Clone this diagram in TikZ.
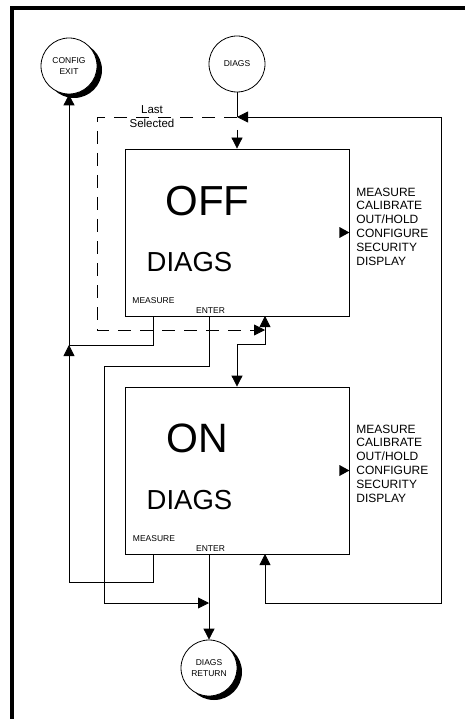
\documentclass[tikz,border=0pt]{standalone}
\usepackage{fontspec}
\setmainfont{Liberation Sans}
\usetikzlibrary{arrows.meta,positioning,shadows}

\begin{document}
\begin{tikzpicture}[
    x=1pt, y=-1pt, line width=0.8pt,
    screen/.style={rectangle, draw, minimum width=224pt, minimum height=167pt, inner sep=0pt},
    state/.style={circle, draw, fill=white, minimum size=56pt, inner sep=0pt,
                  align=center, font=\fontsize{8.5}{11}\selectfont},
    shadowed/.style={drop shadow={shadow xshift=5pt, shadow yshift=-4pt, opacity=1, fill=black}},
    keylbl/.style={inner sep=0pt, font=\fontsize{8.5}{9}\selectfont},
    menu/.style={anchor=west, align=left, inner sep=0pt, font=\fontsize{12}{13.8}\selectfont},
    arr/.style={-{Triangle[length=11pt,width=11pt]}},
    twoarr/.style={{Triangle[length=11pt,width=11pt]}-{Triangle[length=11pt,width=11pt]}},
    lastsel/.style={dash pattern=on 13pt off 9pt}
]
\useasboundingbox (0,0) rectangle (465,719);

% Frame
\draw[line width=4pt] (12,719) -- (12,8) -- (465,8);

% Circles
\node[state, shadowed] (cfgexit) at (69,66) {CONFIG\\EXIT};
\node[state] (diags) at (237,64) {DIAGS};
\node[state, shadowed] (diagsret) at (209,668) {DIAGS\\RETURN};

% OFF screen
\node[screen] (off) at (237,232.5) {};
\node[font=\fontsize{42}{44}\selectfont] (offtxt) at (207.5,201) {OFF};
\node[font=\fontsize{27.5}{30}\selectfont] (offdiag) at (189.5,262) {DIAGS};
\node[keylbl] (offmlbl) at (153.5,301) {MEASURE};
\node[keylbl] (offelbl) at (210.5,310.5) {ENTER};
\node[menu] (offmenu) at (356,226.5) {MEASURE\\CALIBRATE\\OUT/HOLD\\CONFIGURE\\SECURITY\\DISPLAY};
\fill (off.east) -- ++(-10,-5.5) -- ++(0,11) -- cycle;

% ON screen
\node[screen] (on) at (237,470.5) {};
\node[font=\fontsize{41}{44}\selectfont] (ontxt) at (197.5,438) {ON};
\node[font=\fontsize{27.5}{30}\selectfont] (ondiag) at (189.5,500) {DIAGS};
\node[keylbl] (onmlbl) at (154,538.5) {MEASURE};
\node[keylbl] (onelbl) at (210.5,549) {ENTER};
\node[menu] (onmenu) at (356,463.5) {MEASURE\\CALIBRATE\\OUT/HOLD\\CONFIGURE\\SECURITY\\DISPLAY};
\fill (on.east) -- ++(-10,-5.5) -- ++(0,11) -- cycle;

% Junctions
\coordinate (jtop) at (237,117);
\coordinate (jgap) at (237,130);
\coordinate (offmeas) at (153,316);
\coordinate (offenter) at (209,316);
\coordinate (offup) at (265,316);
\coordinate (jdash) at (265,330);
\coordinate (jmid) at (265,344);
\coordinate (jmeas) at (69,345);
\coordinate (onmeas) at (153,554);
\coordinate (onenter) at (209,554);
\coordinate (onup) at (265,554);
\coordinate (jret) at (209,603);

% Connectors
\draw (diags) -- (jtop);
\draw[arr] (jgap) -- (off.north);
\draw[lastsel, arr] (jtop) -| (97,330) -- (jdash);
\node[font=\fontsize{11.5}{14}\selectfont, align=center] (lastlbl) at (152,117) {Last\\Selected};
\draw[arr] (offmeas) |- (jmeas) -- (cfgexit);
\draw[arr] (onmeas) -- (153,582) -| (jmeas);
\draw[arr] (offenter) |- (104,366) |- (jret);
\draw[arr] (onenter) -- (diagsret);
\draw[twoarr] (offup) -- (jmid) -| (on.north);
\draw[twoarr] (onup) |- (441,603) |- (jtop);

\end{tikzpicture}
\end{document}
